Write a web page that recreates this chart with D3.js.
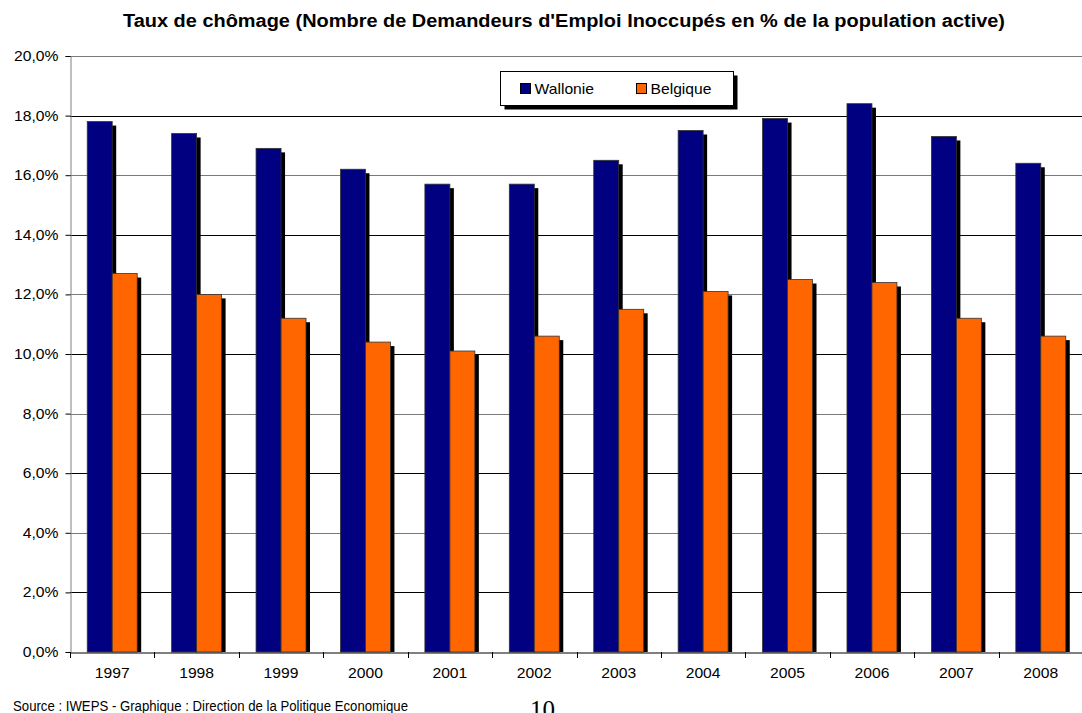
<!DOCTYPE html>
<html>
<head>
<meta charset="utf-8">
<script src="https://cdn.jsdelivr.net/npm/d3@7"></script>
<style>
  html, body { margin: 0; padding: 0; background: #fff; }
  svg { display: block; font-family: "Liberation Sans", Arial, sans-serif; }
</style>
</head>
<body>
<svg id="chart" width="1082" height="713"></svg>
<script>
// Unemployment rate, Wallonia vs Belgium (% of active population)
const years = ["1997","1998","1999","2000","2001","2002","2003","2004","2005","2006","2007","2008"];
const wallonie = [17.8, 17.4, 16.9, 16.2, 15.7, 15.7, 16.5, 17.5, 17.9, 18.4, 17.3, 16.4];
const belgique = [12.7, 12.0, 11.2, 10.4, 10.1, 10.6, 11.5, 12.1, 12.5, 12.4, 11.2, 10.6];
const seriesNames = ["Wallonie", "Belgique"];
const yTicks = [0, 2, 4, 6, 8, 10, 12, 14, 16, 18, 20];

const colors = { Wallonie: "#000080", Belgique: "#FF6600" };
const stretch = 1.12; // horizontal widening applied to label glyphs

const svg = d3.select("#chart");
const plot = { left: 70, right: 1083, top: 56, bottom: 652 };

const x = d3.scaleBand().domain(years).range([plot.left, plot.right]).paddingInner(0).paddingOuter(0);
const xInner = d3.scaleBand().domain(seriesNames).range([0, x.bandwidth()]).paddingInner(0).paddingOuter(0.69);
const y = d3.scaleLinear().domain([0, 20]).range([plot.bottom, plot.top]);

const fmt = v => d3.format(".1f")(v).replace(".", ",") + "%";

// Horizontal gridlines
svg.append("g")
  .selectAll("line")
  .data(yTicks.filter(t => t > 0))
  .join("line")
  .attr("x1", plot.left).attr("x2", plot.right)
  .attr("y1", d => Math.round(y(d)) + 0.5).attr("y2", d => Math.round(y(d)) + 0.5)
  .attr("stroke", d => (d % 4 === 0) ? "#7a7a7a" : "#000")
  .attr("stroke-width", 1);

// Y axis
const yAxis = d3.axisLeft(y).tickValues(yTicks).tickFormat(fmt).tickSize(5).tickPadding(7);
const gy = svg.append("g").attr("transform", `translate(${plot.left + 0.5},0)`).call(yAxis);
gy.select(".domain").attr("stroke", "#808080");
gy.selectAll(".tick line").attr("stroke", "#000");
gy.selectAll(".tick text")
  .attr("font-size", 14).attr("fill", "#000")
  .attr("font-family", "'Liberation Sans', Arial, sans-serif")
  .attr("x", -12 / stretch)
  .attr("transform", `scale(${stretch},1)`);

// Bars with drop shadow
const data = years.map((yr, i) => ({ year: yr, values: [
  { name: "Wallonie", value: wallonie[i] },
  { name: "Belgique", value: belgique[i] }
]}));

const groups = svg.append("g").selectAll("g")
  .data(data).join("g")
  .attr("transform", d => `translate(${x(d.year)},0)`);

const sh = 4;
groups.selectAll("rect.shadow")
  .data(d => d.values).join("rect")
  .attr("class", "shadow")
  .attr("x", d => xInner(d.name) + sh)
  .attr("y", d => y(d.value) + sh)
  .attr("width", xInner.bandwidth())
  .attr("height", d => plot.bottom - y(d.value) - sh)
  .attr("fill", "#000");

groups.selectAll("rect.bar")
  .data(d => d.values).join("rect")
  .attr("class", "bar")
  .attr("x", d => xInner(d.name))
  .attr("y", d => y(d.value))
  .attr("width", xInner.bandwidth())
  .attr("height", d => plot.bottom - y(d.value))
  .attr("fill", d => colors[d.name])
  .attr("stroke", "#333")
  .attr("stroke-width", 0.8);

// X axis
const xAxis = d3.axisBottom(x).tickSize(0).tickPadding(16);
const gx = svg.append("g").attr("transform", `translate(0,${plot.bottom + 0.5})`).call(xAxis);
gx.select(".domain").attr("stroke", "#000");
gx.selectAll(".tick text")
  .attr("font-size", 14).attr("fill", "#000")
  .attr("font-family", "'Liberation Sans', Arial, sans-serif")
  .attr("transform", `scale(${stretch},1)`);
// category separators
svg.append("g").selectAll("line")
  .data(years)
  .join("line")
  .attr("x1", d => Math.round(x(d)) + 0.5).attr("x2", d => Math.round(x(d)) + 0.5)
  .attr("y1", plot.bottom).attr("y2", plot.bottom + 6)
  .attr("stroke", "#000");

// Title
svg.append("text")
  .attr("x", 123).attr("y", 27)
  .attr("font-size", 18).attr("font-weight", "bold")
  .attr("textLength", 882).attr("lengthAdjust", "spacingAndGlyphs")
  .text("Taux de chômage (Nombre de Demandeurs d'Emploi Inoccupés en % de la population active)");

// Legend
const lg = svg.append("g").attr("transform", "translate(500.5,71.5)");
lg.append("rect").attr("x", 4).attr("y", 4).attr("width", 233).attr("height", 34).attr("fill", "#000");
lg.append("rect").attr("x", 0).attr("y", 0).attr("width", 233).attr("height", 34)
  .attr("fill", "#fff").attr("stroke", "#000").attr("stroke-width", 1);
const legendItems = [
  { name: "Wallonie", sx: 20, tx: 34 },
  { name: "Belgique", sx: 136, tx: 150 }
];
legendItems.forEach(it => {
  lg.append("rect").attr("x", it.sx).attr("y", 12).attr("width", 10).attr("height", 10)
    .attr("fill", colors[it.name]).attr("stroke", "#000").attr("stroke-width", 1);
  lg.append("text")
    .attr("transform", `translate(${it.tx},22) scale(${stretch},1)`)
    .attr("font-size", 14).text(it.name);
});

// Footer
svg.append("text").attr("x", 13).attr("y", 711).attr("font-size", 14)
  .attr("textLength", 395).attr("lengthAdjust", "spacingAndGlyphs")
  .text("Source : IWEPS - Graphique : Direction de la Politique Economique");
svg.append("text").attr("x", 530).attr("y", 718).attr("font-size", 25)
  .attr("font-family", "'Liberation Serif', 'Times New Roman', serif")
  .text("10");
</script>
</body>
</html>
